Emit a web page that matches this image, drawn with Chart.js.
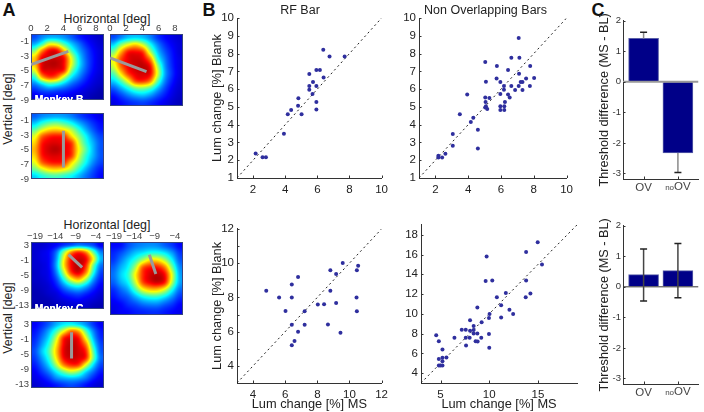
<!DOCTYPE html>
<html>
<head>
<meta charset="utf-8">
<script src="https://cdn.jsdelivr.net/npm/chart.js@4/dist/chart.umd.min.js"></script>
<style>
body { margin: 0; background: #fff; }
#page { position: relative; width: 704px; height: 412px; overflow: hidden; font-family: "Liberation Sans", Arial, sans-serif; color: #222; }
#page canvas { position: absolute; }
.txt { position: absolute; white-space: nowrap; transform: translate(-50%, -50%); }
.letter { font-weight: bold; font-size: 18px; color: #111; }
.head { font-size: 12.4px; color: #222; }
.vert { transform: translate(-50%, -50%) rotate(-90deg); }
.monkey { font-weight: bold; font-size: 10.3px; color: #fff; text-shadow: 0 0 0.6px #fff; z-index: 5; }
</style>
</head>
<body>
<div id="page">
  <div class="txt letter" style="left:9px;top:10px">A</div>
  <div class="txt letter" style="left:209px;top:10px">B</div>
  <div class="txt letter" style="left:598px;top:10px">C</div>
  <div class="txt head" style="left:107px;top:19px">Horizontal [deg]</div>
  <div class="txt head" style="left:107px;top:225px">Horizontal [deg]</div>
  <div class="txt head vert" style="left:8px;top:109px">Vertical [deg]</div>
  <div class="txt head vert" style="left:8px;top:318px">Vertical [deg]</div>
</div>
<script>
// heat maps, rows top to bottom, read by eye from the colours
const heatB1 = [
  [.20,.26,.30,.30,.27,.22,.16,.12,.09,.07],
  [.30,.42,.60,.58,.45,.33,.24,.16,.11,.08],
  [.50,.75,.92,.92,.70,.45,.30,.20,.13,.09],
  [.68,.92,.97,.97,.90,.60,.36,.22,.14,.09],
  [.70,.95,1.0,1.0,.92,.62,.38,.23,.14,.09],
  [.60,.92,.96,.95,.88,.52,.33,.21,.13,.09],
  [.42,.72,.85,.80,.58,.37,.26,.17,.11,.08],
  [.26,.36,.45,.42,.33,.24,.18,.13,.09,.07],
  [.16,.20,.22,.20,.18,.15,.12,.09,.07,.05],
  [.10,.13,.13,.13,.12,.10,.08,.07,.05,.04]
];
const heatB2 = [
  [.20,.26,.32,.34,.32,.26,.18,.13,.10,.08],
  [.34,.50,.62,.68,.58,.40,.26,.17,.12,.09],
  [.50,.72,.90,.92,.86,.56,.33,.21,.14,.09],
  [.62,.84,.95,.98,.95,.78,.42,.25,.15,.10],
  [.58,.80,.93,.98,1.0,.92,.55,.28,.16,.10],
  [.46,.66,.86,.95,.97,.93,.60,.30,.17,.10],
  [.34,.46,.64,.85,.88,.78,.48,.26,.15,.09],
  [.22,.30,.40,.50,.52,.46,.32,.20,.12,.08],
  [.14,.19,.25,.30,.32,.28,.21,.15,.10,.07],
  [.10,.13,.16,.18,.19,.17,.14,.11,.08,.06]
];
const heatB3 = [
  [.22,.26,.28,.29,.28,.25,.20,.16,.13,.10],
  [.32,.40,.46,.48,.44,.38,.30,.23,.17,.13],
  [.46,.58,.66,.68,.64,.55,.42,.30,.21,.15],
  [.60,.80,.88,.90,.87,.68,.52,.38,.26,.19],
  [.68,.89,.95,.96,.93,.86,.60,.42,.30,.21],
  [.72,.91,.98,1.0,.95,.88,.64,.46,.31,.21],
  [.68,.89,.95,.96,.93,.86,.60,.42,.30,.21],
  [.60,.80,.88,.90,.87,.68,.52,.38,.26,.19],
  [.48,.58,.66,.68,.64,.55,.42,.30,.21,.15],
  [.34,.40,.44,.45,.42,.38,.31,.24,.18,.13]
];
const heatC1 = [
  [.08,.08,.10,.13,.18,.22,.26,.24,.20,.12],
  [.08,.10,.13,.24,.50,.75,.86,.76,.48,.26],
  [.08,.10,.13,.28,.62,.90,.98,.93,.64,.32],
  [.08,.09,.13,.30,.65,.92,1.0,.88,.50,.25],
  [.07,.09,.12,.26,.55,.86,.96,.78,.42,.20],
  [.07,.08,.11,.20,.40,.62,.72,.55,.30,.16],
  [.06,.07,.09,.15,.26,.36,.40,.32,.20,.12],
  [.05,.06,.08,.10,.16,.20,.22,.18,.13,.09],
  [.05,.05,.06,.08,.10,.12,.13,.11,.09,.07],
  [.04,.05,.05,.06,.07,.08,.08,.08,.06,.05]
];
const heatC2 = [
  [.13,.14,.20,.24,.26,.27,.26,.22,.18,.13],
  [.16,.20,.26,.32,.36,.40,.40,.36,.28,.18],
  [.18,.25,.33,.42,.55,.66,.66,.55,.38,.22],
  [.22,.30,.38,.55,.82,.90,.90,.78,.50,.27],
  [.24,.33,.42,.64,.87,.97,1.0,.92,.60,.30],
  [.22,.30,.38,.58,.84,.94,.98,.90,.56,.30],
  [.17,.23,.30,.45,.62,.70,.70,.60,.40,.24],
  [.14,.18,.22,.30,.38,.42,.42,.36,.27,.18],
  [.11,.13,.17,.20,.24,.26,.26,.22,.18,.13],
  [.10,.12,.13,.15,.16,.17,.17,.15,.13,.11]
];
const heatC3 = [
  [.12,.16,.22,.30,.36,.38,.34,.27,.18,.12],
  [.14,.20,.30,.44,.62,.78,.72,.46,.26,.15],
  [.16,.24,.36,.58,.88,.95,.90,.62,.32,.17],
  [.18,.28,.42,.66,.93,1.0,.95,.78,.40,.20],
  [.20,.32,.46,.70,.95,1.0,.97,.88,.48,.22],
  [.18,.28,.42,.66,.92,.98,.96,.88,.50,.24],
  [.15,.23,.35,.55,.78,.88,.86,.62,.36,.20],
  [.12,.18,.26,.38,.50,.58,.52,.36,.24,.15],
  [.10,.13,.18,.26,.30,.32,.30,.24,.16,.11],
  [.08,.10,.12,.15,.18,.20,.18,.14,.10,.08]
];

// grey stimulus bars on the heat maps [x, y]
const barB1 = [[0, -4.15], [4.6, -2.35]];
const barB2 = [[0, -3], [4.5, -4.7]];
const barB3 = [[4, -2.4], [4, -7.4]];
const barC1 = [[-10.75, 0.63], [-7.4, -2.8]];
const barC2 = [[-10.3, 0.85], [-8.7, -3.9]];
const barC3 = [[-10, 1], [-10, -6]];

const ticksBx = [0, 2, 4, 6, 8];
const ticksBy = [-1, -3, -5, -7, -9];
const ticksCx = [-19, -14, -9, -4];
const labelsCx = ['\u221219', '\u221214', '\u22129', '\u22124'];
const ticksCy = [3, -1, -5, -9, -13];

// scatter panels, x = MS, y = Blank
const rfBarTopX = [2.16,2.59,2.8,3.92,4.16,4.37,4.8,4.82,5.02,5.5,5.5,5.5,5.73,5.7,5.94,5.94,6.16,5.94,5.94,6.37,6.39,6.76,7.7];
const rfBarTopY = [2.38,2.17,2.17,3.49,4.59,4.83,5.06,5.49,4.59,5.96,6.18,6.85,6.4,5.72,6.18,7.08,7.08,5.28,4.85,8.22,6.65,7.83,7.83];
const nonOvTopX = [7.08,7.12,6.63,5.04,5.75,7.78,6.43,7.1,5.73,7.53,8.02,5.08,5.96,7.2,7.31,6.18,6.63,7.08,7.76,6.18,6.86,7.31,3.94,5.96,6.43,6.53,5.04,5.29,5.06,6.24,5.08,5.96,6.2,5.04,5.16,5.96,6.2,3.49,4.31,4.16,4.59,3.06,3.06,4.59,2.61,2.41,2.18,2.18];
const nonOvTopY = [8.87,7.77,7.77,7.52,7.3,7.3,7.07,6.87,6.6,6.6,6.62,6.42,6.4,6.4,6.4,6.17,6.17,6.17,6.17,5.97,5.95,5.95,5.7,5.72,5.7,5.53,5.53,5.5,5.27,5.27,5.03,5.03,5.03,4.97,4.88,4.82,4.82,4.58,4.39,4.15,3.71,3.47,2.81,2.66,2.36,2.16,2.25,2.16];
const rfBarBotX = [9.58,10.54,8.81,10.46,9.17,6.8,6.41,4.82,8.81,5.62,6.41,10.44,9.17,8.03,8.42,6.02,7.21,10.46,6.41,7.21,8.66,6.8,9.44,6.58,6.41];
const rfBarBotY = [10.01,9.85,9.58,9.58,9.36,9.19,8.76,8.39,8.39,7.99,7.99,7.99,7.67,7.58,7.6,7.21,7.19,7.19,6.4,6.4,6.42,5.99,5.93,5.45,5.2];
const nonOvBotX = [14.97,13.78,9.73,15.41,9.63,10.31,13.78,11.7,14.22,10.78,13.74,11.22,8.78,12.07,10.03,12.45,9.97,11.22,8.03,9.22,8.4,7.18,7.59,8.03,8.4,8.4,8.78,4.56,9.97,6.43,7.59,7.99,9.18,4.83,8.6,8.81,7.62,10,5.2,4.83,5.2,5.61,5.2,4.83,5,5.2];
const nonOvBotY = [17.25,16.27,15.79,15,13.31,13.38,13.38,12.11,12.07,11.68,11.68,10.87,10.64,10.41,9.99,9.99,9.57,9.63,9.34,9.14,8.78,8.39,8.39,8.3,8.36,8,8,7.84,7.97,7.58,7.58,7.58,7.58,7.22,7.22,7.19,6.8,6.57,6.38,5.43,5.56,5.59,5.2,4.78,4.78,4.78];

// threshold difference bars
const barCats = ['OV', 'noOV'];
const diffTicks = [2, 1, 0, -1, -2, -3];
const diffLabels = ['2', '1', '0', '-1', '-2', '-3'];
const diffTop = [1.42, -2.33];
const errTopEnd = [1.62, -2.97];
const diffBot = [0.4, 0.53];
const errBotLow = [-0.46, -0.36];
const errBotHigh = [1.24, 1.42];

Chart.defaults.font.family = '"Liberation Sans", Arial, sans-serif';
Chart.defaults.animation = false;
Chart.defaults.responsive = false;

const page = document.getElementById('page');

function jet(v) {
  // colour limits sit above the peak, only the very centre goes dark red
  const s = v > 0.6 ? 0.6 + (v - 0.6) * 0.85 : v;
  const c = t => Math.round(255 * Math.max(0, Math.min(1, t)));
  return [c(Math.min(4 * s - 1.5, 4.5 - 4 * s)), c(Math.min(4 * s - 0.5, 3.5 - 4 * s)), c(Math.min(4 * s + 0.5, 2.5 - 4 * s))];
}

function cubic(a, b, c, d, t) {
  return b + 0.5 * t * (c - a + t * (2 * a - 5 * b + 4 * c - d + t * (3 * (b - c) + d - a)));
}

function sampleGrid(grid, u, v) {
  const n = grid.length, at = i => Math.max(0, Math.min(n - 1, i));
  const r0 = Math.floor(v), c0 = Math.floor(u), rows = [];
  for (let k = -1; k < 3; k++) {
    const row = grid[at(r0 + k)];
    rows.push(cubic(row[at(c0 - 1)], row[at(c0)], row[at(c0 + 1)], row[at(c0 + 2)], u - c0));
  }
  return cubic(rows[0], rows[1], rows[2], rows[3], v - r0);
}

// paints the grid inside the plot area, cells are placed through the chart scales
function heatPlugin(grid) {
  return {
    id: 'heat',
    beforeDatasetsDraw(chart) {
      const { ctx, chartArea: a, scales: { x, y } } = chart;
      const w = Math.round(a.right - a.left), h = Math.round(a.bottom - a.top);
      const img = ctx.createImageData(w, h), n = grid.length;
      for (let j = 0; j < h; j++) {
        const v = (y.max - y.getValueForPixel(a.top + j + 0.5)) / (y.max - y.min) * n - 0.5;
        for (let i = 0; i < w; i++) {
          const u = (x.getValueForPixel(a.left + i + 0.5) - x.min) / (x.max - x.min) * n - 0.5;
          const col = jet(sampleGrid(grid, u, v)), p = (j * w + i) * 4;
          img.data[p] = col[0]; img.data[p + 1] = col[1]; img.data[p + 2] = col[2]; img.data[p + 3] = 255;
        }
      }
      ctx.putImageData(img, a.left, a.top);
      ctx.strokeStyle = '#34437f';
      ctx.lineWidth = 1;
      ctx.strokeRect(a.left + 0.5, a.top + 0.5, w - 1, h - 1);
    }
  };
}

// matlab style ticks pointing into the axes
const inwardTicks = {
  id: 'inwardTicks',
  afterDatasetsDraw(chart) {
    const { ctx, chartArea: a, scales: { x, y } } = chart;
    ctx.save();
    ctx.strokeStyle = '#333';
    ctx.lineWidth = 1;
    ctx.beginPath();
    x.ticks.forEach((t, i) => {
      const px = Math.round(x.getPixelForTick(i)) + 0.5;
      ctx.moveTo(px, a.bottom);
      ctx.lineTo(px, a.bottom - 2.5);
    });
    y.ticks.forEach((t, i) => {
      const py = Math.round(y.getPixelForTick(i)) + 0.5;
      ctx.moveTo(a.left, py);
      ctx.lineTo(a.left + 2.5, py);
    });
    ctx.stroke();
    ctx.restore();
  }
};

// noOV has a small "no", ticks can only have one font
const noOvLabel = {
  id: 'noOvLabel',
  afterDraw(chart) {
    const { ctx, scales: { x } } = chart;
    const cx = x.getPixelForValue(2);
    const y = chart.chartArea.bottom + 8;
    ctx.save();
    ctx.fillStyle = '#444';
    ctx.textBaseline = 'middle';
    ctx.textAlign = 'left';
    ctx.font = '8px "Liberation Sans"';
    const a = ctx.measureText('no').width;
    ctx.font = '11.5px "Liberation Sans"';
    const b = ctx.measureText('OV').width;
    ctx.fillText('OV', cx - (a + b) / 2 + a, y);
    ctx.font = '8px "Liberation Sans"';
    ctx.fillText('no', cx - (a + b) / 2, y + 1);
    ctx.restore();
  }
};

function addCanvas(box) {
  const cv = document.createElement('canvas');
  cv.width = box.w + box.l + box.r;
  cv.height = box.h + box.t + box.b;
  cv.style.left = (box.x - box.l) + 'px';
  cv.style.top = (box.y - box.t) + 'px';
  page.appendChild(cv);
  return cv;
}

function heatPanel(box, grid, bar, xr, yr, xt, yt, xl, showX, showY) {
  const d = { r: 2, l: 22, t: 14, b: 2, ...box };
  new Chart(addCanvas(d), {
    type: 'scatter',
    data: { datasets: [{
      data: bar.map(p => ({ x: p[0], y: p[1] })),
      showLine: true, borderColor: '#9b9b9b', borderWidth: 3, pointRadius: 0
    }] },
    options: {
      layout: { padding: { right: d.r, bottom: d.b } },
      plugins: { legend: { display: false }, tooltip: { enabled: false } },
      scales: {
        x: {
          type: 'linear', position: 'top', min: xr[0], max: xr[1],
          afterBuildTicks: s => { s.ticks = xt.map(v => ({ value: v })); },
          afterFit: s => { s.height = d.t; },
          grid: { drawOnChartArea: false, drawTicks: false }, border: { display: false },
          ticks: { display: showX, padding: 0, autoSkip: false, maxRotation: 0, color: '#444', font: { size: 9.5 },
            callback: (v, i) => xl[i] }
        },
        y: {
          type: 'linear', min: yr[0], max: yr[1],
          afterBuildTicks: s => { s.ticks = yt.map(v => ({ value: v })); },
          afterFit: s => { s.width = d.l; },
          grid: { drawOnChartArea: false, drawTicks: false }, border: { display: false },
          ticks: { display: showY, padding: 2, autoSkip: false, color: '#444', font: { size: 9.5 },
            callback: v => String(v) }
        }
      }
    },
    plugins: [heatPlugin(grid)]
  });
}

heatPanel({ x: 31, y: 34, w: 73, h: 72 }, heatB1, barB1, [0, 9], [-9, 0], ticksBx, ticksBy, ticksBx, true, true);
heatPanel({ x: 110, y: 34, w: 73, h: 72 }, heatB2, barB2, [0, 9], [-9, 0], ticksBx, ticksBy, ticksBx, true, false);
heatPanel({ x: 31, y: 113, w: 73, h: 72 }, heatB3, barB3, [0, 9], [-9, 0], ticksBx, ticksBy, ticksBx, false, true);
heatPanel({ x: 31, y: 242, w: 73, h: 73 }, heatC1, barC1, [-20, -2], [-14, 4], ticksCx, ticksCy, labelsCx, true, true);
heatPanel({ x: 110, y: 242, w: 73, h: 73 }, heatC2, barC2, [-20, -2], [-14, 4], ticksCx, ticksCy, labelsCx, true, false);
heatPanel({ x: 31, y: 321, w: 73, h: 73 }, heatC3, barC3, [-20, -2], [-14, 4], ticksCx, ticksCy, labelsCx, false, true);

function monkey(text, x, y) {
  const el = document.createElement('div');
  el.className = 'txt monkey';
  el.style.left = x + 'px';
  el.style.top = y + 'px';
  el.textContent = text;
  page.appendChild(el);
}
monkey('Monkey B', 59, 99);
monkey('Monkey C', 59, 308);

function scatterPanel(o) {
  const d = o.box;
  const titleH = o.title ? 15 : 0;
  const diag = [{ x: o.xr[0], y: o.yr[0] }, { x: Math.min(o.xr[1], o.yr[1]), y: Math.min(o.xr[1], o.yr[1]) }];
  new Chart(addCanvas(d), {
    type: 'scatter',
    data: { datasets: [
      { data: o.xs.map((v, i) => ({ x: v, y: o.ys[i] })), backgroundColor: '#2f2f9e', borderWidth: 0, pointRadius: 2, order: 1 },
      { data: diag, showLine: true, borderColor: '#222', borderWidth: 1, borderDash: [2, 3], pointRadius: 0, order: 2 }
    ] },
    options: {
      layout: { padding: { top: d.t - titleH, right: d.r } },
      plugins: {
        legend: { display: false }, tooltip: { enabled: false },
        title: { display: !!o.title, text: o.title, color: '#222', padding: 0, font: { size: 12.5, weight: 'normal' } }
      },
      scales: {
        x: {
          type: 'linear', min: o.xr[0], max: o.xr[1],
          afterBuildTicks: s => { s.ticks = o.xt.map(v => ({ value: v })); },
          afterFit: s => { s.height = d.b; },
          grid: { drawOnChartArea: false, drawTicks: false }, border: { color: '#333' },
          title: { display: !!o.xTitle, text: o.xTitle, color: '#222', padding: 0, font: { size: 12.8 } },
          ticks: { padding: 5, autoSkip: false, maxRotation: 0, color: '#222', font: { size: 11.5 }, callback: v => String(v) }
        },
        y: {
          type: 'linear', min: o.yr[0], max: o.yr[1],
          afterBuildTicks: s => { s.ticks = o.yt.map(v => ({ value: v })); },
          afterFit: s => { s.width = d.l; },
          grid: { drawOnChartArea: false, drawTicks: false }, border: { color: '#333' },
          title: { display: !!o.yTitle, text: o.yTitle, color: '#222', padding: 0, font: { size: 12.8 } },
          ticks: { padding: 3, autoSkip: false, color: '#222', font: { size: 11.5 },
            callback: v => o.yl.includes(v) ? String(v) : '' }
        }
      }
    },
    plugins: [inwardTicks]
  });
}

const one2ten = [1, 2, 3, 4, 5, 6, 7, 8, 9, 10];

scatterPanel({ box: { x: 237, y: 18, w: 153, h: 160, l: 27, t: 18, r: 3, b: 20 }, title: 'RF Bar',
  xs: rfBarTopX, ys: rfBarTopY, xr: [1, 10], yr: [1, 10], xt: [2, 4, 6, 8, 10], yt: one2ten, yl: one2ten,
  yTitle: 'Lum change [%] Blank' });
scatterPanel({ box: { x: 419, y: 18, w: 153, h: 160, l: 20, t: 18, r: 6, b: 20 }, title: 'Non Overlapping Bars',
  xs: nonOvTopX, ys: nonOvTopY, xr: [1, 10], yr: [1, 10], xt: [2, 4, 6, 8, 10], yt: one2ten, yl: one2ten });
scatterPanel({ box: { x: 237, y: 223, w: 153, h: 160, l: 27, t: 4, r: 3, b: 29 },
  xs: rfBarBotX, ys: rfBarBotY, xr: [3, 12], yr: [3, 12], xt: [4, 6, 8, 10, 12], yt: [3, 4, 5, 6, 7, 8, 9, 10, 11, 12], yl: [4, 6, 8, 10, 12],
  xTitle: 'Lum change [%] MS', yTitle: 'Lum change [%] Blank' });
scatterPanel({ box: { x: 421, y: 219, w: 157, h: 164, l: 20, t: 4, r: 3, b: 29 },
  xs: nonOvBotX, ys: nonOvBotY, xr: [3, 19], yr: [3, 19], xt: [5, 10, 15], yt: [4, 6, 8, 10, 12, 14, 16, 18], yl: [4, 6, 8, 10, 12, 14, 16, 18],
  xTitle: 'Lum change [%] MS' });

function barPanel(box, values, errs, zeroColor, zeroWidth, errColor) {
  const d = { l: 26, t: 4, r: 0, b: 20, ...box };
  const errSets = errs.map((e, i) => ({
    type: 'scatter', data: [{ x: i + 1, y: e[0] }, { x: i + 1, y: e[1] }], showLine: true,
    borderColor: errColor, borderWidth: 1.5, pointStyle: 'line',
    pointBorderColor: '#222', pointBorderWidth: 1.5, pointRadius: e[2] ? 3.5 : [0, 3.5], order: 1
  }));
  new Chart(addCanvas(d), {
    type: 'bar',
    data: { datasets: [
      { data: values.map((v, i) => ({ x: i + 1, y: v })), backgroundColor: '#000088', borderColor: '#5a5fa8', borderWidth: 1, barThickness: 30, order: 3 },
      { type: 'scatter', data: [{ x: 0.4, y: 0 }, { x: 2.6, y: 0 }], showLine: true, borderColor: zeroColor, borderWidth: zeroWidth, pointRadius: 0, order: 2 },
      ...errSets
    ] },
    options: {
      layout: { padding: { top: d.t } },
      plugins: { legend: { display: false }, tooltip: { enabled: false } },
      scales: {
        x: {
          type: 'linear', offset: false, min: 0.4, max: 2.6,
          afterBuildTicks: s => { s.ticks = [{ value: 1 }, { value: 2 }]; },
          afterFit: s => { s.height = d.b; },
          grid: { offset: false, drawOnChartArea: false, drawTicks: false }, border: { color: '#333' },
          ticks: { padding: 2, autoSkip: false, maxRotation: 0, color: '#444', font: { size: 11.5 },
            callback: (v, i) => barCats[i].startsWith('no') ? '' : barCats[i] }
        },
        y: {
          type: 'linear', min: -3.18, max: 2,
          afterBuildTicks: s => { s.ticks = diffTicks.map(v => ({ value: v })); },
          afterFit: s => { s.width = d.l; },
          grid: { drawOnChartArea: false, drawTicks: false }, border: { color: '#333' },
          title: { display: true, text: 'Threshold difference (MS - BL)', color: '#222', padding: 0, font: { size: 12.7 } },
          ticks: { padding: 2, autoSkip: false, color: '#333', font: { size: 9.5 }, callback: (v, i) => diffLabels[i] }
        }
      }
    },
    plugins: [inwardTicks, noOvLabel]
  });
}

barPanel({ x: 623, y: 17, w: 81, h: 162 }, diffTop,
  diffTop.map((v, i) => [v, errTopEnd[i], false]), '#999', 2, '#8a8a8a');
barPanel({ x: 623, y: 222, w: 81, h: 162 }, diffBot,
  diffBot.map((v, i) => [errBotLow[i], errBotHigh[i], true]), '#333', 1, '#444');
</script>
</body>
</html>
